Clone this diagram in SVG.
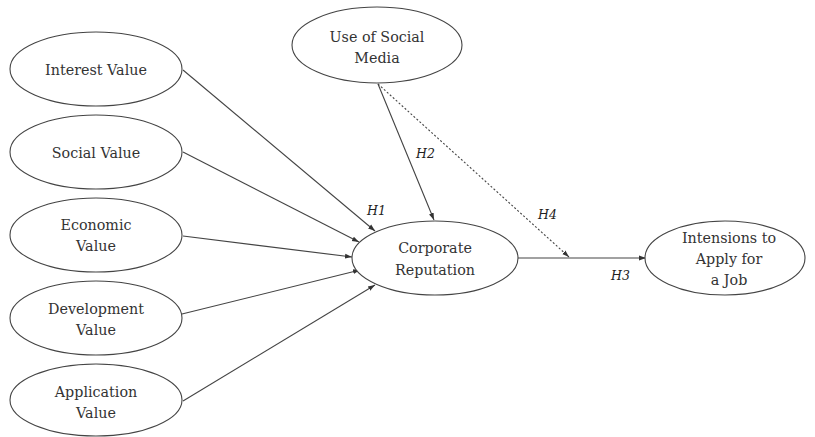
<svg xmlns="http://www.w3.org/2000/svg" width="815" height="437" viewBox="0 0 815 437">
<style>
.n ellipse{fill:#fff;stroke:#444;stroke-width:1.1}
.n text{font-family:"DejaVu Serif","Liberation Serif",serif;font-size:14.3px;fill:#333;text-anchor:middle}
.c line{stroke:#444;stroke-width:1.1;fill:none}
.c .d{stroke-dasharray:2,2}
.lbl{font-family:"DejaVu Serif","Liberation Serif",serif;font-size:12.5px;font-style:italic;fill:#222}
</style>
<defs>
<marker id="ah" viewBox="0 0 10 10" refX="10" refY="5" markerWidth="7" markerHeight="7" orient="auto" markerUnits="userSpaceOnUse">
<path d="M0,1.5 L10,5 L0,8.5 z" fill="#333"/>
</marker>
</defs>
<rect width="815" height="437" fill="#fff"/>
<g class="c">
<line x1="183" y1="70" x2="375" y2="231" marker-end="url(#ah)"/>
<line x1="183" y1="152" x2="359" y2="242" marker-end="url(#ah)"/>
<line x1="183" y1="236" x2="352" y2="257" marker-end="url(#ah)"/>
<line x1="182" y1="314" x2="360" y2="270" marker-end="url(#ah)"/>
<line x1="183" y1="401" x2="375" y2="285" marker-end="url(#ah)"/>
<line x1="378" y1="84" x2="434" y2="220" marker-end="url(#ah)"/>
<line class="d" x1="378" y1="84" x2="569" y2="257" marker-end="url(#ah)"/>
<line x1="518" y1="258" x2="646" y2="258" marker-end="url(#ah)"/>
</g>
<g id="interest" class="n"><ellipse cx="96" cy="69" rx="86" ry="37"/><text x="96" y="75">Interest Value</text></g>
<g id="social" class="n"><ellipse cx="96" cy="152" rx="86" ry="37"/><text x="96" y="158">Social Value</text></g>
<g id="economic" class="n"><ellipse cx="96" cy="235" rx="86" ry="37"/><text x="96" y="230">Economic</text><text x="96" y="251">Value</text></g>
<g id="development" class="n"><ellipse cx="96" cy="318" rx="86" ry="37"/><text x="96" y="314">Development</text><text x="96" y="335">Value</text></g>
<g id="application" class="n"><ellipse cx="96" cy="400" rx="86" ry="36"/><text x="96" y="397">Application</text><text x="96" y="418">Value</text></g>
<g id="socialmedia" class="n"><ellipse cx="377" cy="45" rx="85" ry="38"/><text x="377" y="42">Use of Social</text><text x="377" y="63">Media</text></g>
<g id="reputation" class="n"><ellipse cx="435" cy="258" rx="83" ry="37"/><text x="435" y="253">Corporate</text><text x="435" y="275">Reputation</text></g>
<g id="intension" class="n"><ellipse cx="725" cy="258" rx="80" ry="37"/><text x="729" y="243">Intensions to</text><text x="729" y="264">Apply for</text><text x="729" y="285">a Job</text></g>
<g id="labels">
<text class="lbl" x="367" y="215">H1</text>
<text class="lbl" x="416" y="158">H2</text>
<text class="lbl" x="538" y="219">H4</text>
<text class="lbl" x="611" y="280">H3</text>
</g>
</svg>
